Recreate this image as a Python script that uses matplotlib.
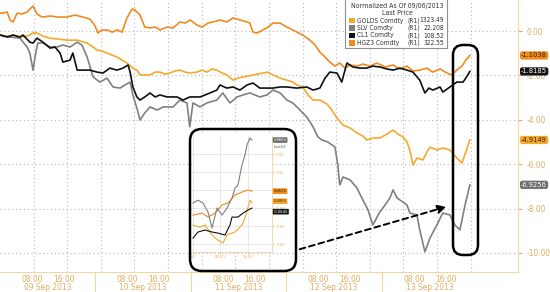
import numpy as np
import matplotlib
matplotlib.use("Agg")
import matplotlib.pyplot as plt
from matplotlib import font_manager
from matplotlib.patches import FancyBboxPatch, FancyArrowPatch, Rectangle
from matplotlib.transforms import IdentityTransform, blended_transform_factory

# narrow font if there is one, else condensed DejaVu
installed = set(f.name for f in font_manager.fontManager.ttflist)
if 'Liberation Sans Narrow' in installed:
    plt.rcParams['font.family'] = ['Liberation Sans Narrow', 'DejaVu Sans']
else:
    plt.rcParams['font.family'] = ['DejaVu Sans']
    plt.rcParams['font.stretch'] = 'condensed'

W, H = 550, 292

# ---- main chart data: hours since 09 Sep 2013 00:00, % change vs 09/06/2013 ----
hg_t = [0, 0.8, 1.8, 2.5, 3.3, 4.3, 5.5, 6.8, 8.3, 9.3, 10.6, 12.6, 14.6, 16.8, 18.9,
        20.9, 22.6, 23.9, 24.6, 25.6, 26.9, 28.2, 29.4, 30.7, 31.9, 33.2, 33.9, 35.2, 36.4, 37.7,
        39.0, 40.2, 42.0, 43.5, 45.2, 46.5, 47.8, 49.5, 50.8, 52.3, 53.5, 55.3, 57.0, 58.6, 60.3,
        62.1, 62.8, 63.6, 64.6, 66.1, 67.4, 68.6, 70.4, 72.1, 73.6, 76.1, 77.9, 79.2, 80.4, 81.7,
        82.9, 84.2, 85.4, 86.7, 88.0, 89.7, 91.2, 93.0, 94.7, 96.8, 98.8, 100.5, 102.3, 103.8, 105.6,
        107.3, 108.8, 110.6, 112.3, 113.6, 114.8, 116.1, 117.1, 118.1]
hg_v = [0.81, 0.81, 0.86, 0.50, 0.41, 0.81, 0.77, 0.86, 1.13, 0.77, 0.63, 0.68, 0.63, 0.63, 0.72,
        0.63, 0.54, 0.23, -0.09, 0.05, 0.05, -0.05, 0.05, -0.05, 0.59, 0.99, 0.95, 0.72, 0.18, 0.14,
        0.18, 0.05, 0.18, 0.14, 0.41, 0.36, 0.50, 0.27, 0.18, 0.36, 0.41, 0.50, 0.41, 0.59, 0.50,
        0.41, 0.36, -0.05, -0.09, 0.05, 0.18, 0.36, 0.36, 0.18, 0.05, -0.18, -0.41, -0.63, -0.95, -1.17,
        -1.40, -1.58, -1.44, -1.67, -1.53, -1.58, -1.49, -1.58, -1.44, -1.62, -1.53, -1.71, -1.58, -1.80, -1.76,
        -1.67, -1.85, -1.71, -1.89, -1.98, -1.76, -1.58, -1.31, -1.10]

gold_t = [0, 1.8, 3.3, 5.0, 6.8, 8.3, 9.3, 10.8, 12.6, 14.6, 16.8, 19.4, 21.9, 23.1, 24.4,
          25.6, 26.9, 28.1, 29.4, 30.7, 31.9, 33.4, 34.4, 35.2, 35.9, 37.7, 39.0, 40.2, 41.5, 42.7,
          44.0, 45.2, 46.5, 47.7, 49.5, 50.8, 52.0, 53.3, 54.5, 55.8, 57.0, 58.6, 59.8, 61.1, 62.3,
          63.6, 64.8, 66.1, 67.3, 68.6, 70.4, 72.1, 73.6, 74.6, 76.1, 77.4, 78.7, 80.4, 82.2, 83.4,
          84.7, 86.2, 88.0, 89.7, 91.2, 92.2, 93.7, 95.5, 97.3, 98.8, 100.0, 101.3, 102.3, 103.0, 103.8,
          104.8, 106.3, 107.3, 108.1, 109.8, 111.3, 113.1, 114.8, 116.1, 117.1, 118.1]
gold_v = [-0.18, -0.23, -0.18, -0.27, -0.23, -0.09, -0.09, -0.23, -0.32, -0.36, -0.41, -0.41, -0.54, -0.68, -0.86,
          -0.90, -0.99, -1.08, -1.17, -1.31, -1.44, -1.67, -1.76, -1.98, -1.98, -1.98, -1.85, -1.85, -1.94, -1.89,
          -1.80, -1.76, -1.85, -1.89, -1.85, -1.76, -1.85, -1.71, -1.76, -1.89, -1.98, -2.21, -2.12, -2.07, -2.03,
          -1.98, -1.94, -1.89, -1.85, -1.98, -2.12, -2.21, -2.30, -2.43, -2.52, -2.88, -3.11, -3.11, -3.29, -3.56,
          -3.92, -4.23, -4.37, -4.59, -4.73, -4.91, -4.82, -4.82, -4.64, -4.46, -4.64, -4.77, -5.00, -5.36, -6.04,
          -5.72, -5.81, -5.45, -5.23, -5.36, -5.27, -5.36, -5.72, -5.95, -5.45, -4.91]

cl_t = [0, 1.8, 3.3, 5.0, 5.8, 7.5, 8.3, 9.3, 10.8, 12.6, 13.8, 15.1, 15.8, 17.6, 18.3,
        19.4, 20.9, 22.6, 24.4, 25.9, 27.6, 29.4, 30.9, 32.2, 32.7, 33.4, 34.4, 35.2, 36.4, 37.7,
        39.0, 40.2, 42.0, 44.5, 46.0, 47.7, 50.3, 52.8, 54.5, 55.3, 57.0, 58.6, 60.3, 62.1, 63.6,
        65.3, 67.1, 68.6, 70.4, 72.1, 74.6, 77.1, 78.7, 80.4, 81.7, 82.9, 84.7, 85.9, 87.2, 88.7,
        90.5, 92.2, 93.7, 95.5, 97.3, 98.8, 100.5, 102.3, 103.8, 105.5, 106.8, 107.8, 108.8, 110.6, 111.3,
        113.1, 114.8, 116.4, 117.4, 118.1]
cl_v = [-0.18, -0.27, -0.18, -0.27, -0.18, -0.50, -0.54, -0.32, -0.50, -0.77, -0.72, -0.99, -1.40, -1.31, -0.99,
        -1.76, -1.76, -1.76, -1.85, -1.89, -1.67, -1.76, -1.67, -1.53, -1.85, -2.52, -2.97, -3.11, -2.97, -2.79,
        -2.97, -2.88, -2.97, -2.97, -3.11, -2.97, -2.97, -2.79, -2.66, -2.43, -2.57, -2.52, -2.66, -2.43, -2.34,
        -2.57, -2.57, -2.57, -2.52, -2.52, -2.57, -2.52, -2.66, -2.57, -2.12, -1.85, -1.89, -2.30, -1.44, -1.62,
        -1.67, -1.67, -1.58, -1.62, -1.71, -1.76, -1.67, -1.76, -1.85, -2.21, -2.79, -2.57, -2.66, -2.52, -2.75,
        -2.52, -2.30, -2.30, -2.03, -1.82]

si_t = [0, 2.5, 5.0, 6.8, 7.5, 8.3, 8.8, 9.5, 10.8, 12.6, 14.3, 15.8, 17.6, 19.4, 20.6,
        21.9, 23.4, 25.1, 26.9, 28.4, 30.2, 31.4, 32.7, 33.4, 34.4, 35.2, 36.4, 37.7, 39.5, 41.0,
        43.5, 45.2, 47.0, 47.7, 48.5, 50.3, 52.0, 54.5, 56.0, 57.8, 59.6, 61.1, 62.8, 65.3, 67.1,
        68.6, 70.4, 72.1, 73.6, 75.4, 77.1, 78.7, 79.9, 80.9, 82.4, 84.2, 84.9, 85.4, 86.2, 88.0,
        89.7, 91.2, 92.5, 93.7, 95.5, 96.8, 98.0, 98.8, 99.8, 100.5, 102.3, 103.0, 104.8, 105.5, 106.8,
        108.1, 109.8, 111.3, 113.1, 114.3, 115.6, 116.9, 118.1]
si_v = [-0.18, -0.27, -0.32, -0.72, -0.99, -1.76, -1.17, -0.54, -0.54, -0.72, -0.72, -0.63, -0.72, -0.50, -0.63,
        -1.17, -2.07, -2.30, -2.12, -2.52, -2.57, -2.43, -2.30, -2.88, -3.47, -4.01, -3.69, -3.42, -3.56, -3.42,
        -3.42, -3.11, -3.24, -4.32, -3.24, -3.42, -3.24, -3.11, -2.79, -3.24, -2.97, -2.88, -2.79, -2.97, -2.88,
        -2.66, -2.79, -3.11, -3.24, -3.56, -3.87, -4.32, -4.77, -4.91, -5.00, -5.23, -6.04, -6.94, -6.58, -6.71,
        -7.07, -7.61, -8.06, -8.74, -8.15, -7.84, -7.52, -7.16, -7.52, -7.61, -7.84, -8.20, -8.29, -8.96, -9.95,
        -9.32, -8.74, -8.20, -8.29, -8.74, -8.96, -7.84, -6.93]

last_labels = ["-1.1038", "-1.8185", "-4.9149", "-6.9256"]
legend_names = ["GOLDS Comdty", "SLV Comdty", "CL1 Comdty", "HGZ3 Comdty"]
legend_prices = ["1323.49", "22.208", "108.52", "322.55"]
days = ["09 Sep 2013", "10 Sep 2013", "11 Sep 2013", "12 Sep 2013", "13 Sep 2013"]
y_ticks = [0, -2, -4, -6, -8, -10]

# ---- inset (zoom of last session) ----
in_si_t = [0, 1.45, 2.91, 4.36, 5.53, 6.98, 8.44, 9.89, 11.35, 12.22, 13.09, 14.25, 15.13, 15.71, 16.58, 17.16]
in_si_v = [-0.72, -0.56, -0.72, -1.22, -2.11, -1.00, -1.39, -1.00, -0.44, 0.11, 0.28, 1.39, 1.94, 2.50, 2.89, 2.78]
in_hg_t = [0, 2.62, 4.36, 6.40, 8.44, 10.18, 12.22, 14.25, 16.0, 17.16]
in_hg_v = [-1.39, -1.28, -1.50, -1.28, -0.83, -0.72, -0.28, -0.11, 0.0, -0.06]
in_gold_t = [0, 2.04, 3.49, 5.53, 7.27, 8.73, 9.89, 12.22, 14.25, 15.13, 16.58, 17.16]
in_gold_v = [-1.94, -2.06, -1.94, -2.50, -2.78, -2.94, -2.50, -2.33, -1.94, -1.56, -0.56, -0.72]
in_cl_t = [0, 1.45, 3.49, 5.53, 7.27, 9.31, 10.76, 11.35, 13.09, 14.55, 16.0, 17.16]
in_cl_v = [-2.67, -2.33, -2.22, -2.33, -2.39, -2.50, -1.94, -1.50, -1.50, -1.28, -1.11, -1.00]
in_labels = ["2.8663", "0.4672", "0.2855", "-0.0645"]

C_HG = '#f08a1e'
C_GOLD = '#f4a92c'
C_SI = '#808080'
C_CL = '#101010'
TAN = '#dcae62'
TANLINE = '#f3d6a0'
GRID = '#b8b8b8'

fig = plt.figure(figsize=(W / 100, H / 100), dpi=100)
ax = fig.add_axes([0, 20 / H, 518 / W, 272 / H])

ax.plot(hg_t, hg_v, color=C_HG, lw=1.2, zorder=3)
ax.plot(gold_t, gold_v, color=C_GOLD, lw=1.2, zorder=3)
ax.plot(si_t, si_v, color=C_SI, lw=1.2, zorder=4)
ax.plot(cl_t, cl_v, color=C_CL, lw=1.2, zorder=5)

ax.set_xlim(0, 130.2)
ax.set_ylim(-10.86, 1.40)

# gridlines
for gx in np.arange(1, 15) * 8.45:
    ax.axvline(gx, color=GRID, lw=0.8, ls=(0, (1, 2.5)), zorder=1)
for gy in y_ticks:
    ax.axhline(gy, color=GRID, lw=0.8, ls=(0, (1, 2.5)), zorder=1)

for s in ['top', 'left']:
    ax.spines[s].set_visible(False)
for s in ['right', 'bottom']:
    ax.spines[s].set_color(TANLINE)
    ax.spines[s].set_linewidth(0.8)

ax.yaxis.tick_right()
ax.set_yticks(y_ticks)
ax.set_yticklabels(["%.2f" % v for v in y_ticks])
ax.tick_params(axis='y', colors=TAN, labelsize=6, length=3, width=0.8, pad=3)

xt, xl = [], []
for d in range(5):
    xt += [d * 24 + 8, d * 24 + 16]
    xl += ["08:00", "16:00"]
ax.set_xticks(xt)
ax.set_xticklabels(xl)
ax.tick_params(axis='x', colors=TAN, labelsize=6, length=0, pad=2)

bt = blended_transform_factory(ax.transData, ax.transAxes)
for d, name in enumerate(days):
    ax.text(d * 24 + 12, -0.057, name, transform=bt, ha='center', va='center',
            fontsize=6, color=TAN, clip_on=False)
    if d > 0:
        ax.plot([d * 24, d * 24], [0, -0.08], transform=bt, color=TANLINE, lw=0.8, clip_on=False)

# last value tags
bty = blended_transform_factory(ax.transAxes, ax.transData)
tag_vals = [hg_v[-1], cl_v[-1], gold_v[-1], si_v[-1]]
tag_fc = [C_HG, '#151515', C_GOLD, '#6e6e6e']
tag_tc = ['#3a2200', 'white', '#3a2200', 'white']
for v, lab, fc, tc in zip(tag_vals, last_labels, tag_fc, tag_tc):
    ax.text(1.006, v, lab, transform=bty, ha='left', va='center', fontsize=5.4, color=tc,
            clip_on=False, bbox=dict(boxstyle='round,pad=0.15,rounding_size=0.3', fc=fc, ec='none'))

# legend box
def fx(x):
    return x / W


def fy(y):
    return 1 - y / H


fig.patches.append(Rectangle((fx(345), fy(48)), fx(447) - fx(345), fy(-2) - fy(48),
                             transform=fig.transFigure, fc='white', ec='#909090', lw=0.8, zorder=6))
fig.text(fx(397), fy(6), "Normalized As Of 09/06/2013", ha='center', va='center', fontsize=5, color='#333333', zorder=7)
fig.text(fx(397), fy(13), "Last Price", ha='center', va='center', fontsize=5, color='#333333', zorder=7)
leg_colors = [C_GOLD, C_SI, C_CL, C_HG]
for i, (nm, pr, c) in enumerate(zip(legend_names, legend_prices, leg_colors)):
    yy = 20.5 + i * 7.5
    fig.patches.append(Rectangle((fx(349), fy(yy + 2.8)), fx(5.5), 5.5 / H, transform=fig.transFigure,
                                 fc=c, ec='none', zorder=7))
    fig.text(fx(357), fy(yy), nm, ha='left', va='center', fontsize=4.8, color='#333333', zorder=7)
    fig.text(fx(407), fy(yy), "(R1)", ha='left', va='center', fontsize=4.8, color='#333333', zorder=7)
    fig.text(fx(444), fy(yy), pr, ha='right', va='center', fontsize=4.8, color='#333333', zorder=7)

# inset axes
ia = fig.add_axes([fx(192), fy(252), fx(80), 117 / H], zorder=3)
ia.plot(in_hg_t, in_hg_v, color=C_HG, lw=0.8)
ia.plot(in_gold_t, in_gold_v, color=C_GOLD, lw=0.8)
ia.plot(in_si_t, in_si_v, color=C_SI, lw=0.8)
ia.plot(in_cl_t, in_cl_v, color=C_CL, lw=0.8)
ia.set_xlim(-0.3, 23.0)
ia.set_ylim(-3.44, 3.06)
ia.set_xticks([0, 8, 16])
ia.set_xticklabels(["00", "08:00", "16:00"])
ia.set_yticks([2, 1, 0, -1, -2, -3])
ia.set_yticklabels(["2.00", "1.00", "0.00", "-1.00", "-2.00", "-3.00"])
ia.yaxis.tick_right()
ia.grid(color='#dddddd', lw=0.5)
ia.tick_params(colors=TAN, labelsize=3, length=1.5, width=0.5, pad=1)
for s in ['top', 'left']:
    ia.spines[s].set_visible(False)
for s in ['right', 'bottom']:
    ia.spines[s].set_color(TANLINE)
    ia.spines[s].set_linewidth(0.6)
ibty = blended_transform_factory(ia.transAxes, ia.transData)
in_last = [in_si_v[-1], in_hg_v[-1], in_gold_v[-1] + 0.1, in_cl_v[-1] - 0.2]
in_fc = ['#6e6e6e', C_HG, C_GOLD, '#151515']
in_tc = ['white', '#3a2200', '#3a2200', 'white']
for v, lab, fc, tc in zip(in_last, in_labels, in_fc, in_tc):
    ia.text(1.02, v, lab, transform=ibty, ha='left', va='center', fontsize=3, color=tc,
            clip_on=False, zorder=5, bbox=dict(boxstyle='round,pad=0.2', fc=fc, ec='none'))
ia.text(1.02, in_si_v[-1] - 0.4, "Last03", transform=ibty, ha='left', va='center', fontsize=3,
        color='#555555', clip_on=False)

# highlight boxes and arrow (pixel coordinates)
def bx(x0, y0, x1, y1, r):
    return FancyBboxPatch((x0, H - y1), x1 - x0, y1 - y0, boxstyle="round,pad=0,rounding_size=%d" % r,
                          transform=IdentityTransform(), fill=False, ec='black', lw=1.8, zorder=8)


fig.add_artist(bx(190, 129, 296, 271, 12))
fig.add_artist(bx(453, 45, 478, 255, 10))
arr = FancyArrowPatch((297, H - 250), (449, H - 206), transform=IdentityTransform(),
                      arrowstyle='-|>,head_length=5,head_width=2.5', linestyle=(0, (3, 2)),
                      lw=1.4, color='black', zorder=8)
fig.add_artist(arr)

fig.savefig("out.png", dpi=100)
